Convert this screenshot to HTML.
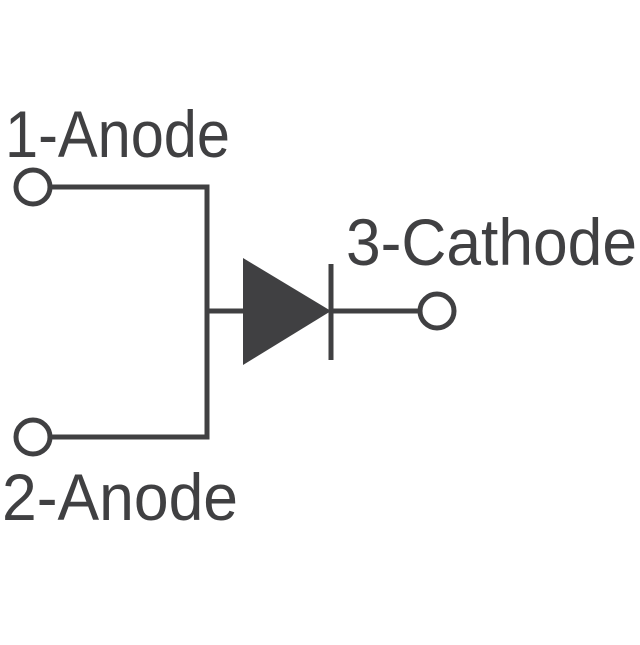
<!DOCTYPE html>
<html><head><style>html,body{margin:0;padding:0;background:#fff;}</style></head>
<body>
<svg width="640" height="640" viewBox="0 0 640 640" xmlns="http://www.w3.org/2000/svg">
<g fill="none" stroke="#404042" stroke-width="5" stroke-linejoin="miter">
<circle cx="33" cy="187" r="17"/>
<circle cx="33" cy="437" r="17"/>
<circle cx="437" cy="311" r="17"/>
<polyline points="50,187 207,187 207,437 50,437"/>
<line x1="207" y1="311" x2="245" y2="311"/>
<line x1="331" y1="311" x2="420" y2="311"/>
<line x1="331" y1="264" x2="331" y2="360"/>
</g>
<polygon points="243,258 331,311 243,365" fill="#404042"/>
<g fill="#404042" font-family="Liberation Sans, sans-serif" font-size="66">
<text x="5" y="157" textLength="225" lengthAdjust="spacingAndGlyphs">1-Anode</text>
<text x="2" y="520" textLength="236" lengthAdjust="spacingAndGlyphs">2-Anode</text>
<text x="346" y="265" textLength="291" lengthAdjust="spacingAndGlyphs">3-Cathode</text>
</g>
</svg>
</body></html>
